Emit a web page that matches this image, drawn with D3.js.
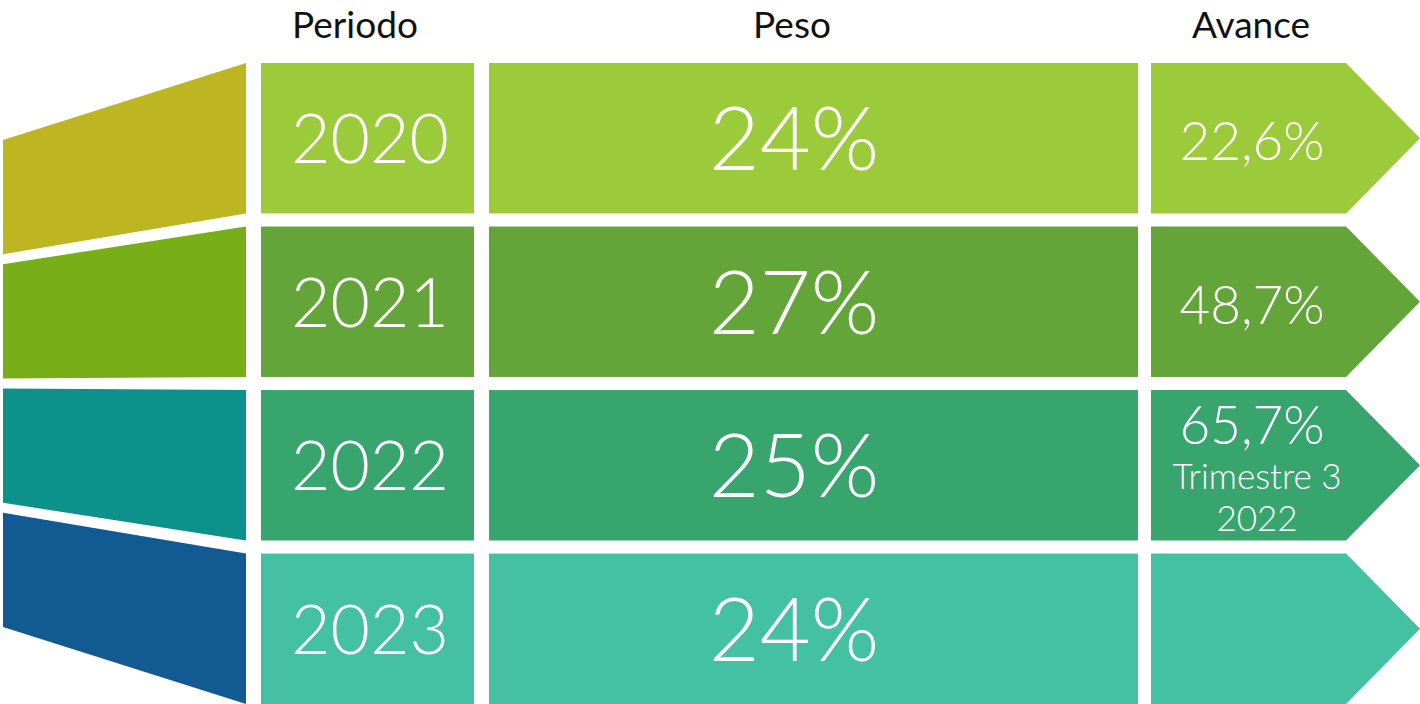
<!DOCTYPE html>
<html>
<head>
<meta charset="utf-8">
<script src="https://cdn.jsdelivr.net/npm/d3@7"></script>
<style>
  body { margin: 0; background: #fff; }
  svg { display: block; }
  text { font-family: Lato, "Open Sans", sans-serif; }
</style>
</head>
<body>
<svg id="chart" width="1420" height="704"></svg>
<script>
// Periodo / Peso / Avance table

var periods = ["2020", "2021", "2022", "2023"];
var peso = ["24%", "27%", "25%", "24%"];
var avance = ["22,6%", "48,7%", "65,7%", ""];
var avanceNote = [[], [], ["Trimestre 3", "2022"], []];
var headers = ["Periodo", "Peso", "Avance"];

var fanColors = ["#bdb522", "#78af18", "#0c928a", "#125a92"];
var rowColors = ["#9bca3a", "#63a538", "#38a56e", "#44c0a2"];

var W = 1420, H = 704;
var svg = d3.select("#chart");

var y = d3.scaleBand()
  .domain(periods)
  .range([63, 704])
  .paddingInner(0.08);

// the fan on the left squeezes toward the middle
var mid = (63 + 704) / 2;
var squeeze = function (v) { return mid + (v - mid) * 0.76; };

var col = {
  fan: [3, 246],
  periodo: [261, 474],
  peso: [489, 1138],
  avance: [1151, 1346],
  tip: 1420
};

///////////////////////////////////////////////////////////////////////////////
// Left fan

svg.append("g").selectAll("path")
  .data(periods)
  .join("path")
  .attr("d", function (p) {
    var t = y(p), b = y(p) + y.bandwidth();
    return d3.line()([
      [col.fan[0], squeeze(t)],
      [col.fan[1], t],
      [col.fan[1], b],
      [col.fan[0], squeeze(b)]
    ]) + "Z";
  })
  .attr("fill", function (p, i) { return fanColors[i]; });

///////////////////////////////////////////////////////////////////////////////
// Rows

var rows = svg.append("g").selectAll("g")
  .data(periods)
  .join("g")
  .attr("transform", function (p) { return "translate(0," + y(p) + ")"; });

var bh = y.bandwidth();

rows.append("rect")
  .attr("x", col.periodo[0])
  .attr("width", col.periodo[1] - col.periodo[0])
  .attr("height", bh)
  .attr("fill", function (p, i) { return rowColors[i]; });

rows.append("rect")
  .attr("x", col.peso[0])
  .attr("width", col.peso[1] - col.peso[0])
  .attr("height", bh)
  .attr("fill", function (p, i) { return rowColors[i]; });

rows.append("path")
  .attr("d", d3.line()([
    [col.avance[0], 0],
    [col.avance[1], 0],
    [col.tip, bh / 2],
    [col.avance[1], bh],
    [col.avance[0], bh]
  ]) + "Z")
  .attr("fill", function (p, i) { return rowColors[i]; });

rows.append("text")
  .attr("x", 370)
  .attr("y", bh / 2 + 25)
  .attr("text-anchor", "middle")
  .attr("fill", "#fff")
  .attr("font-size", 68)
  .attr("font-weight", 300)
  .text(function (p) { return p; });

rows.append("text")
  .attr("x", 794)
  .attr("y", bh / 2 + 32)
  .attr("text-anchor", "middle")
  .attr("fill", "#fff")
  .attr("font-size", 88)
  .attr("font-weight", 300)
  .text(function (p, i) { return peso[i]; });

rows.append("text")
  .attr("x", 1252)
  .attr("y", function (p, i) {
    return avanceNote[i].length ? bh / 2 - 21 : bh / 2 + 22;
  })
  .attr("text-anchor", "middle")
  .attr("fill", "#fff")
  .attr("font-size", 53)
  .attr("font-weight", 300)
  .text(function (p, i) { return avance[i]; });

rows.each(function (p, i) {
  d3.select(this).selectAll("text.note")
    .data(avanceNote[i])
    .join("text")
    .attr("class", "note")
    .attr("x", 1257)
    .attr("y", function (d, j) { return bh / 2 + 24 + j * 42; })
    .attr("text-anchor", "middle")
    .attr("fill", "#fff")
    .attr("font-size", 35)
    .attr("font-weight", 300)
    .text(function (d) { return d; });
});

///////////////////////////////////////////////////////////////////////////////
// Headers

var headerX = [355, 792, 1251];
svg.append("g").selectAll("text")
  .data(headers)
  .join("text")
  .attr("x", function (d, i) { return headerX[i]; })
  .attr("y", 38)
  .attr("text-anchor", "middle")
  .attr("fill", "#111")
  .attr("font-size", 37)
  .text(function (d) { return d; });
</script>
</body>
</html>
